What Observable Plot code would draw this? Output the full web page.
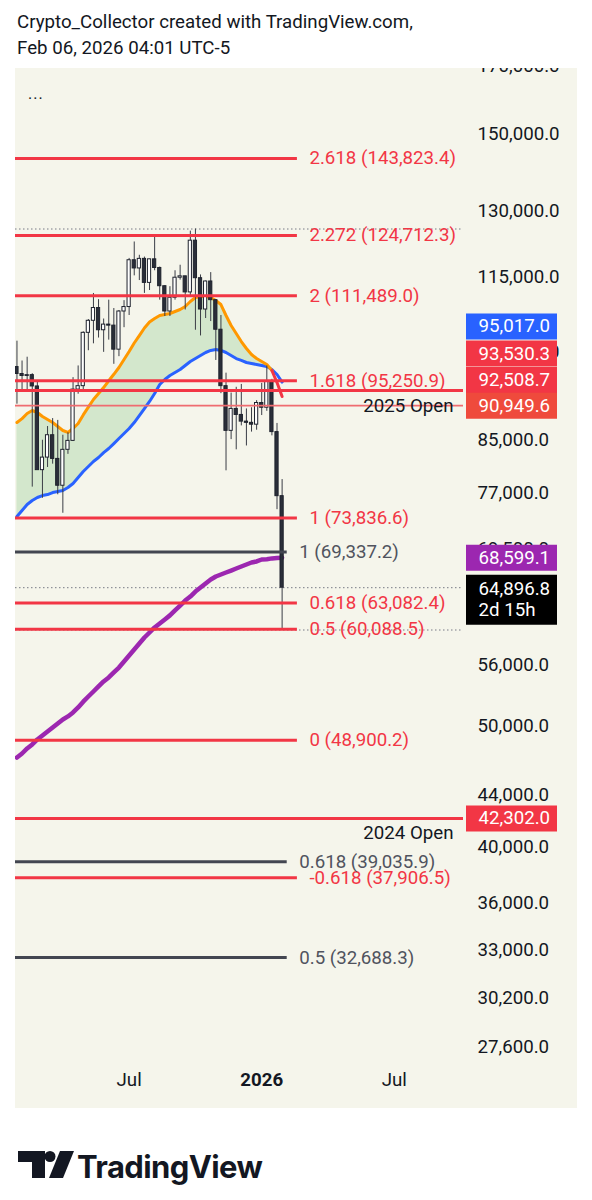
<!DOCTYPE html>
<html><head><meta charset="utf-8">
<script src="https://cdn.jsdelivr.net/npm/d3@7"></script>
<script src="https://cdn.jsdelivr.net/npm/@observablehq/plot@0.6"></script>
<style>
html,body{margin:0;padding:0;background:#fff}
body{width:592px;height:1200px;position:relative;overflow:hidden;font-family:Roboto,sans-serif;color:#131722}
#hdr{position:absolute;left:17px;top:9px;font-size:18.7px;line-height:26px}
#panel{position:absolute;left:15px;top:68px;width:562px;height:1040px;background:#F5F5EB}
#chart{position:absolute;left:15px;top:68px}
#dots{position:absolute;left:28px;top:84px;font-size:16px;letter-spacing:1px}
#logo{position:absolute;left:0;top:1140px}
</style></head><body>
<div id="hdr">Crypto_Collector created with TradingView.com,<br>Feb 06, 2026 04:01 UTC-5</div>
<div id="panel"></div>
<div id="chart"></div>
<div id="dots">...</div>
<svg id="logo" width="300" height="56">
  <rect x="18" y="11" width="27" height="11" fill="#131722"/>
  <rect x="32" y="11" width="13" height="27" fill="#131722"/>
  <circle cx="50" cy="16.5" r="5.5" fill="#131722"/>
  <polygon points="60,11 74,11 63,38 49,38" fill="#131722"/>
  <text x="77" y="38" font-family="Inter, Roboto, sans-serif" font-weight="700" font-size="31" letter-spacing="-0.6" fill="#131722">TradingView</text>
</svg>
<script>
// ---- data ----
const weeks = ["2025-02-03","2025-02-10","2025-02-17","2025-02-24","2025-03-03","2025-03-10","2025-03-17","2025-03-24","2025-03-31","2025-04-07","2025-04-14","2025-04-21","2025-04-28","2025-05-05","2025-05-12","2025-05-19","2025-05-26","2025-06-02","2025-06-09","2025-06-16","2025-06-23","2025-06-30","2025-07-07","2025-07-14","2025-07-21","2025-07-28","2025-08-04","2025-08-11","2025-08-18","2025-08-25","2025-09-01","2025-09-08","2025-09-15","2025-09-22","2025-09-29","2025-10-06","2025-10-13","2025-10-20","2025-10-27","2025-11-03","2025-11-10","2025-11-17","2025-11-24","2025-12-01","2025-12-08","2025-12-15","2025-12-22","2025-12-29","2026-01-05","2026-01-12","2026-01-19","2026-01-26","2026-02-02"];
const opens = [97700,96450,96100,96250,94250,80700,82600,86100,82400,78400,83800,85200,93700,94300,104100,106450,109000,104600,105700,105500,100900,108300,109200,119100,117300,119400,114200,119300,117400,113500,108300,111100,115300,115600,112200,123500,115200,108700,114500,110600,104700,94300,86800,90400,89400,88300,88100,87800,91400,90600,95100,86600,76900];
const highs = [102500,98800,99500,96500,95000,85300,87500,88800,88500,86100,86500,95800,97900,104300,106700,111980,110700,106800,110600,108900,108500,110500,119500,123200,120200,119800,119300,124500,117600,113600,113400,116800,118000,115600,125700,126200,115900,114600,116400,110700,107500,96600,93100,94100,94600,90400,90600,91800,94800,97900,95500,88000,79300];
const lows = [91200,93300,93400,78200,81500,76600,81100,81600,77100,74500,83100,85100,92900,93400,100700,102000,103100,100400,102700,98200,99600,105100,107500,115700,114700,112000,112600,116800,110600,107300,107300,110600,114800,108600,111500,104600,103500,106900,106300,98900,93000,80600,85400,83800,87600,84400,86600,86900,89300,90000,86000,75000,60100];
const closes = [96450,96100,96250,94250,80700,82600,86100,82400,78400,83800,85200,93700,94300,104100,106450,109000,104600,105700,105500,100900,108300,109200,119100,117300,119400,114200,119300,117400,113500,108300,111100,115300,115600,112200,123500,115200,108700,114500,110600,104700,94300,86800,90400,89400,88300,88100,87800,91400,90600,95100,86600,76900,64896.8];
const fastMA = [88150,88800,89630,90140,89800,89140,88640,88150,87500,86860,86540,87185,88000,89400,90700,91990,93030,94060,95250,96400,97620,99080,100560,102150,103580,105040,106220,106900,107500,107700,107900,108300,108700,109310,110325,111150,111350,111350,111150,110530,109710,107500,105525,103970,102435,101120,100000,99255,98710,98165,97080,94930,92508.7];
const slowMA = [74055,74880,75720,76280,76710,76990,77130,77420,77565,77710,78140,78730,79610,80495,81250,82005,82610,83375,84005,84780,85575,86380,87185,88150,89300,90470,91660,93025,94590,95470,96175,96720,97255,97990,98710,99255,99810,100370,100750,100920,100750,100370,99810,99255,98900,98530,98350,98165,97990,97800,97255,96360,95017.0];
const longMA = [47365,47720,48170,48530,48980,49340,49700,50075,50450,50830,51115,51495,51975,52535,53040,53535,54035,54540,54945,55460,55965,56595,57225,57865,58515,59170,59725,60285,60735,61190,61650,62225,62780,63365,63840,64435,64915,65400,65890,66255,66505,66750,66995,67250,67500,67750,68000,68130,68380,68420,68520,68570,68599.1];

const redFibLevels = ["2.618","2.272","2","1.618","1","0.618","0.5","0","-0.618"];
const redFibPrices = [143823.4,124712.3,111489.0,95250.9,73836.6,63082.4,60088.5,48900.2,37906.5];
const redFibEnd = "2026-02-23";
const grayFibLevels = ["1","0.618","0.5"];
const grayFibPrices = [69337.2,39035.9,32688.3];
const grayFibEnd = "2026-02-09";
const yearOpenNames = ["2025 Open","2024 Open"];
const yearOpenPrices = [93530.3,42302.0];
const extraLinePrice = 90949.6;
const dottedPrices = [126200,64896.8,60000];
const lastPrice = 64896.8;
const countdown = "2d 15h";
const tagValues = [95017.0,93530.3,92508.7,90949.6,68599.1,42302.0];
const tagColors = ["#2962FF","#F23645","#F23645","#EF4A3C","#9C27B0","#F23645"];
const yTicks = [170000,150000,130000,115000,100000,85000,77000,69500,56000,50000,44000,40000,36000,33000,30200,27600];
const xTickDates = ["2025-07-07","2026-01-05","2026-07-06"];
const xTickLabels = ["Jul","2026","Jul"];
const xDomain = ["2025-02-01","2026-10-09"];
const yDomain = [26610,169945];

// ---- tables ----
const fmt = d3.format(",.1f");
const DAY = 864e5;
const FS = 18.7;
const rows = weeks.map((w,i)=>({date:new Date(w),o:opens[i],h:highs[i],l:lows[i],c:closes[i],fast:fastMA[i],slow:slowMA[i],ma:longMA[i]}));
const start = new Date(xDomain[0]);
const redFib = redFibLevels.map((lv,i)=>({lv,price:redFibPrices[i],x1:start,x2:new Date(redFibEnd)}));
const grayFib = grayFibLevels.map((lv,i)=>({lv,price:grayFibPrices[i],x1:start,x2:new Date(grayFibEnd)}));
const yearOpen = yearOpenNames.map((n,i)=>({n,price:yearOpenPrices[i]}));
const xTicks = xTickDates.map((d,i)=>({date:new Date(d),label:xTickLabels[i]}));

const RED="#F23645", GRAY="#434651";
const tagShift=[-55.6,-37,-16.5,0,0,0];
function tag(v,color,shift){
  return [
    Plot.ruleY([v],{y:d=>d,stroke:color,strokeWidth:26,insetLeft:451,insetRight:-94,dy:shift}),
    Plot.text([v],{y:d=>d,text:d=>fmt(d),frameAnchor:"right",textAnchor:"start",dx:15,dy:shift,fill:"#fff",fontSize:FS})
  ];
}

const chart = Plot.plot({
  width:562, height:1040,
  marginTop:0, marginLeft:0, marginRight:114, marginBottom:40,
  style:{background:"transparent",fontFamily:"Roboto",fontSize:FS+"px",color:"#131722",overflow:"hidden"},
  x:{type:"utc",domain:xDomain.map(d=>new Date(d)),axis:null},
  y:{type:"log",domain:yDomain,axis:null},
  marks:[
    Plot.axisY({ticks:yTicks,tickFormat:fmt,anchor:"right",tickSize:0,tickPadding:14,textAnchor:"start",dy:-2,label:null,fontSize:FS}),
    Plot.areaY(rows.slice(0,51),{x:"date",y1:"slow",y2:"fast",fill:"#4CAF50",fillOpacity:0.2}),
    Plot.ruleY(dottedPrices,{y:d=>d,stroke:"#787B86",strokeWidth:1,strokeDasharray:"1.5,2.5"}),
    Plot.line(rows,{x:"date",y:"slow",stroke:"#2962FF",strokeWidth:3}),
    Plot.line(rows.slice(0,51),{x:"date",y:"fast",stroke:"#FF9800",strokeWidth:3}),
    Plot.line(rows.slice(50),{x:"date",y:"fast",stroke:RED,strokeWidth:3}),
    Plot.line(rows,{x:"date",y:"ma",stroke:"#9C27B0",strokeWidth:4.5}),
    Plot.ruleX(rows,{x:"date",y1:"l",y2:"h",stroke:"#3A3D46",strokeWidth:1}),
    Plot.rect(rows,{x1:d=>new Date(+d.date-2.2*DAY),x2:d=>new Date(+d.date+2.2*DAY),y1:d=>Math.min(d.o,d.c),y2:d=>Math.max(d.o,d.c),fill:d=>d.c>=d.o?"#FFFFFF":"#2A2E39",stroke:"#1E222D",strokeWidth:1}),
    Plot.ruleY(yearOpen,{y:"price",stroke:RED,strokeWidth:3}),
    Plot.ruleY([extraLinePrice],{y:d=>d,stroke:"#EF6C70",strokeWidth:1.6}),
    Plot.ruleY(redFib,{y:"price",x1:"x1",x2:"x2",stroke:RED,strokeWidth:3}),
    Plot.ruleY(grayFib,{y:"price",x1:"x1",x2:"x2",stroke:GRAY,strokeWidth:3}),
    Plot.text(redFib,{x:"x2",y:"price",text:d=>`${d.lv} (${fmt(d.price)})`,textAnchor:"start",dx:12,fill:RED,fontSize:FS}),
    Plot.text(grayFib,{x:"x2",y:"price",text:d=>`${d.lv} (${fmt(d.price)})`,textAnchor:"start",dx:12,fill:"#50535E",fontSize:FS}),
    Plot.text(yearOpen,{y:"price",text:"n",frameAnchor:"right",textAnchor:"end",dx:-10,dy:15,fill:"#131722",fontSize:FS}),
    ...tagValues.flatMap((v,i)=>tag(v,tagColors[i],tagShift[i])),
    Plot.ruleY([lastPrice],{y:d=>d,stroke:"#000",strokeWidth:50,insetLeft:451,insetRight:-94,dy:12}),
    Plot.text([lastPrice],{y:d=>d,text:d=>fmt(d)+"\n"+countdown,frameAnchor:"right",textAnchor:"start",dx:15,dy:11,lineHeight:1.15,fill:"#fff",fontSize:FS}),
    Plot.text(xTicks.filter(d=>d.label!=="2026"),{x:"date",text:"label",frameAnchor:"bottom",dy:17,fill:"#131722",fontSize:FS}),
    Plot.text(xTicks.filter(d=>d.label==="2026"),{x:"date",text:"label",frameAnchor:"bottom",dy:17,fill:"#131722",fontSize:FS,fontWeight:"bold"})
  ]
});
document.getElementById("chart").appendChild(chart);
</script>
</body></html>
